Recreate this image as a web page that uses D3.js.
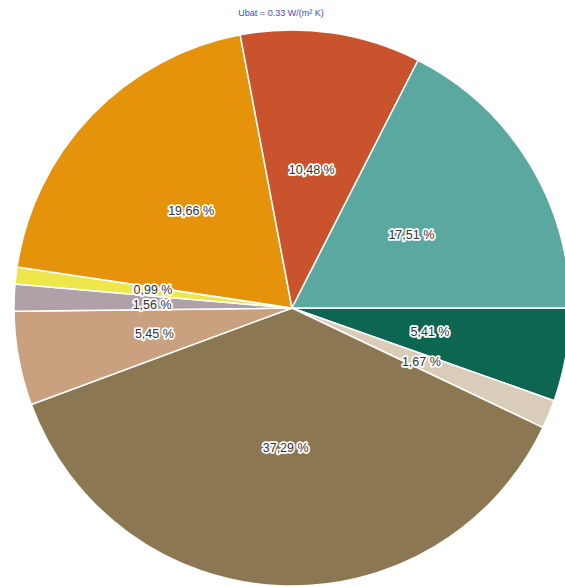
<!DOCTYPE html>
<html>
<head>
<meta charset="utf-8">
<script src="https://cdn.jsdelivr.net/npm/d3@7"></script>
<style>
  body { margin: 0; background: #fff; }
  svg { display: block; font-family: "Liberation Sans", Arial, sans-serif; }
  .title { fill: #4646c8; font-size: 9px; }
  .label { fill: #333; font-size: 12.5px; paint-order: stroke; stroke: #fff; stroke-width: 3.5px; stroke-linejoin: round; }
</style>
</head>
<body>
<svg id="chart" width="565" height="587"></svg>
<script>

// Slice data, clockwise from 3 o'clock
const categories = ["green", "beige", "brown", "tan", "grey", "yellow", "orange", "red", "teal"];
const values = [5.41, 1.67, 37.29, 5.45, 1.56, 0.99, 19.66, 10.48, 17.51];
const labels = ["5,41 %", "1,67 %", "37,29 %", "5,45 %", "1,56 %", "0,99 %", "19,66 %", "10,48 %", "17,51 %"];
const colours = ["#0d6652", "#d9cdb9", "#8b7752", "#c9a17f", "#b0a1a8", "#eee74b", "#e5930a", "#c9532d", "#5ba8a1"];
const title = "Ubat = 0.33 W/(m\u00b2 K)";

const width = 565,
      height = 587,
      radius = 278,
      lineGap = 15;

const svg = d3.select("#chart");

// Title
svg.append("text")
    .classed("title", true)
    .attr("x", 281)
    .attr("y", 16)
    .style("text-anchor", "middle")
    .text(title);

const g = svg.append("g")
    .attr("transform", "translate(292,308)");

// Pie generator, starting at east and going clockwise
const pie = d3.pie()
    .sort(null)
    .value((d, i) => values[i])
    .startAngle(Math.PI / 2)
    .endAngle(Math.PI / 2 + 2 * Math.PI);

const arcs = pie(categories);

const arc = d3.arc()
    .innerRadius(0)
    .outerRadius(radius);

const labelArc = d3.arc()
    .innerRadius(140)
    .outerRadius(140);

// Label positions, nudged apart where two would overlap
const pos = arcs.map((d) => labelArc.centroid(d));
for (let i = 0; i < pos.length; i++) {
    for (let j = i + 1; j < pos.length; j++) {
        const dy = pos[j][1] - pos[i][1];
        if (Math.abs(pos[j][0] - pos[i][0]) < 50 && Math.abs(dy) < lineGap) {
            const push = (lineGap - Math.abs(dy)) / 2 * (dy < 0 ? -1 : 1);
            pos[i][1] -= push;
            pos[j][1] += push;
        }
    }
}

// Slices
g.selectAll("path")
    .data(arcs)
    .enter()
    .append("path")
    .attr("d", arc)
    .style("fill", (d, i) => colours[i])
    .style("stroke", "#fff")
    .style("stroke-width", 1.5);

// Percentage labels
g.selectAll("text")
    .data(arcs)
    .enter()
    .append("text")
    .classed("label", true)
    .attr("transform", (d, i) => `translate(${pos[i]})`)
    .attr("dy", "0.35em")
    .style("text-anchor", "middle")
    .text((d, i) => labels[i]);

</script>
</body>
</html>
